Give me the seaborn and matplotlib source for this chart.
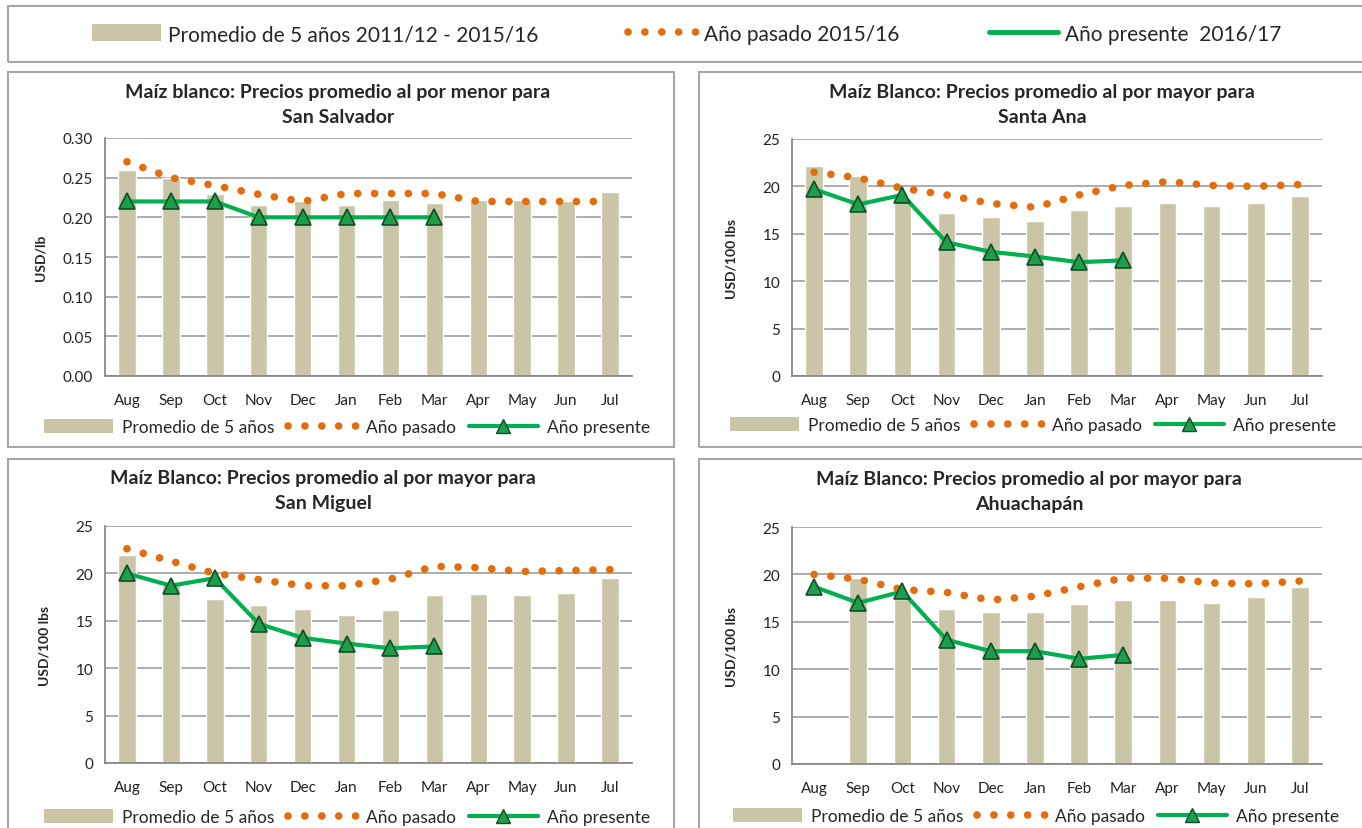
import numpy as np
import pandas as pd
import matplotlib
matplotlib.use("Agg")
import matplotlib.pyplot as plt
import seaborn as sns
from matplotlib.patches import Rectangle, Patch
from matplotlib.lines import Line2D

# Datos
meses = ["Aug", "Sep", "Oct", "Nov", "Dec", "Jan", "Feb", "Mar", "Apr", "May", "Jun", "Jul"]

titulos = [
    "Maíz blanco: Precios promedio al por menor para\nSan Salvador",
    "Maíz Blanco: Precios promedio al por mayor para\nSanta Ana",
    "Maíz Blanco: Precios promedio al por mayor para\nSan Miguel",
    "Maíz Blanco: Precios promedio al por mayor para\nAhuachapán",
]
unidades = ["USD/lb", "USD/100 lbs", "USD/100 lbs", "USD/100 lbs"]

# San Salvador (menor)
ss_prom = [0.260, 0.250, 0.230, 0.216, 0.220, 0.216, 0.222, 0.218, 0.222, 0.222, 0.220, 0.232]
ss_pasado = [0.270, 0.250, 0.240, 0.229, 0.220, 0.230, 0.230, 0.230, 0.220, 0.220, 0.220, 0.220]
ss_presente = [0.22, 0.22, 0.22, 0.20, 0.20, 0.20, 0.20, 0.20]

# Santa Ana
sa_prom = [22.2, 21.1, 18.8, 17.2, 16.8, 16.3, 17.5, 17.9, 18.3, 17.9, 18.2, 19.0]
sa_pasado = [21.5, 20.9, 19.8, 19.1, 18.2, 17.8, 19.1, 20.1, 20.5, 20.1, 20.0, 20.2]
sa_presente = [19.7, 18.1, 19.1, 14.1, 13.1, 12.6, 12.0, 12.2]

# San Miguel
sm_prom = [21.9, 18.8, 17.3, 16.7, 16.2, 15.6, 16.1, 17.7, 17.8, 17.7, 17.9, 19.5]
sm_pasado = [22.6, 21.3, 20.0, 19.35, 18.7, 18.7, 19.4, 20.75, 20.6, 20.2, 20.3, 20.4]
sm_presente = [20.0, 18.7, 19.5, 14.7, 13.2, 12.6, 12.1, 12.3]

# Ahuachapán
ah_prom = [np.nan, 19.6, 17.4, 16.4, 16.0, 16.0, 16.85, 17.3, 17.3, 17.0, 17.6, 18.7]
ah_pasado = [20.0, 19.5, 18.4, 18.1, 17.3, 17.7, 18.7, 19.6, 19.6, 19.1, 19.0, 19.3]
ah_presente = [18.7, 17.0, 18.2, 13.1, 11.9, 11.9, 11.1, 11.5]

series = [
    (ss_prom, ss_pasado, ss_presente),
    (sa_prom, sa_pasado, sa_presente),
    (sm_prom, sm_pasado, sm_presente),
    (ah_prom, ah_pasado, ah_presente),
]
ylims = [(0, 0.30), (0, 25), (0, 25), (0, 25)]
yticks = [np.arange(0, 0.301, 0.05), np.arange(0, 26, 5), np.arange(0, 26, 5), np.arange(0, 26, 5)]

# Estilo
sns.set_style("white")
plt.rcParams["font.family"] = ["Lato", "DejaVu Sans"]

c_barra = "#CBC5A7"
c_naranja = "#E46C0A"
c_verde = "#00B050"
c_grid = "#A6A6A6"
punteado = (0, (0.01, 2.2))

W, H = 1362, 829
fig = plt.figure(figsize=(W / 100, H / 100), dpi=100)

# posiciones en pixeles: (izq, der, arriba, abajo)
ejes_px = [(105, 632, 139, 377), (792, 1322, 140, 377), (105, 632, 527, 764), (792, 1322, 528, 765)]
cajas_px = [(8, 674, 73, 448), (699, 1366, 73, 448), (8, 674, 460, 835), (699, 1366, 460, 835)]
titulo_px = [(338, 105), (1042, 105), (323, 491), (1029, 492)]
leyenda_px = [(347, 428), (1033, 426), (347, 818), (1036, 817)]


def caja(x0, x1, y0, y1, lw=1.5):
    fig.patches.append(Rectangle((x0 / W, 1 - y1 / H), (x1 - x0) / W, (y1 - y0) / H,
                                 transform=fig.transFigure, fill=False,
                                 edgecolor=c_grid, lw=lw, zorder=0))


h_barra = Patch(facecolor=c_barra, edgecolor="none")
h_pasado = Line2D([], [], color=c_naranja, lw=5.5, linestyle=punteado, dash_capstyle="round")
h_presente = Line2D([], [], color=c_verde, lw=3, marker="^", markersize=10,
                    markerfacecolor="#1E9E4A", markeredgecolor="#0A4F26")
h_linea = Line2D([], [], color=c_verde, lw=3.5)

for i in range(4):
    x0, x1, y0, y1 = ejes_px[i]
    ax = fig.add_axes([x0 / W, 1 - y1 / H, (x1 - x0) / W, (y1 - y0) / H])
    prom, pasado, presente = series[i]
    df = pd.DataFrame({"mes": meses, "prom": prom})
    sns.barplot(data=df, x="mes", y="prom", order=meses, color=c_barra, width=0.4,
                saturation=1, errorbar=None, ax=ax, zorder=2)
    sns.lineplot(x=np.arange(12), y=pasado, color=c_naranja, lw=5.5, linestyle=punteado,
                 dash_capstyle="round", ax=ax, zorder=3, errorbar=None)
    sns.lineplot(x=np.arange(len(presente)), y=presente, color=c_verde, lw=3, marker="^",
                 markersize=11, markerfacecolor="#1E9E4A", markeredgecolor="#0A4F26",
                 markeredgewidth=1.2, ax=ax, zorder=4, errorbar=None)

    ax.set_xlim(-0.5, 11.5)
    ax.set_ylim(*ylims[i])
    ax.set_yticks(yticks[i])
    if i == 0:
        ax.set_yticklabels([f"{v:.2f}" for v in yticks[i]])
    else:
        ax.set_yticklabels([f"{v:.0f}" for v in yticks[i]])
    ax.set_xticks(range(12), meses)
    ax.set_xticks(np.arange(-0.5, 12, 1), minor=True)
    ax.tick_params(axis="x", which="major", length=0, pad=12, labelsize=11, colors="#222222")
    ax.tick_params(axis="x", which="minor", length=5, color="#808080", width=1)
    ax.tick_params(axis="y", length=5, color="#808080", labelsize=11, labelcolor="#222222")
    ax.yaxis.grid(True, color=c_grid, lw=1.3, zorder=0)
    ax.set_axisbelow(True)
    for s in ["top", "right"]:
        ax.spines[s].set_visible(False)
    for s in ["left", "bottom"]:
        ax.spines[s].set_color("#808080")
        ax.spines[s].set_linewidth(1.2)
    ax.set_xlabel("")
    ax.set_ylabel(unidades[i], fontsize=10, fontweight="bold", labelpad=12 if i == 0 else 18)

    caja(*cajas_px[i])
    tx, ty = titulo_px[i]
    fig.text(tx / W, 1 - ty / H, titulos[i], ha="center", va="center", fontsize=14,
             fontweight="bold", linespacing=1.55)
    lx, ly = leyenda_px[i]
    fig.legend([h_barra, h_pasado, h_presente], ["Promedio de 5 años", "Año pasado", "Año presente"],
               loc="center", bbox_to_anchor=(lx / W, 1 - ly / H), ncol=3, frameon=False,
               fontsize=12.5, handlelength=4.0, handleheight=0.9, handletextpad=0.5,
               columnspacing=0.75, borderpad=0)

# leyenda general
caja(8, 1366, 7, 63)
fig.legend([h_barra, h_pasado, h_linea],
           ["Promedio de 5 años 2011/12 - 2015/16", "Año pasado 2015/16", "Año presente  2016/17"],
           loc="center", bbox_to_anchor=(687 / W, 1 - 35 / H), ncol=3, frameon=False,
           fontsize=15, handlelength=3.3, handleheight=0.9, handletextpad=0.35,
           columnspacing=4.3, borderpad=0)

fig.savefig("out.png", dpi=100)
